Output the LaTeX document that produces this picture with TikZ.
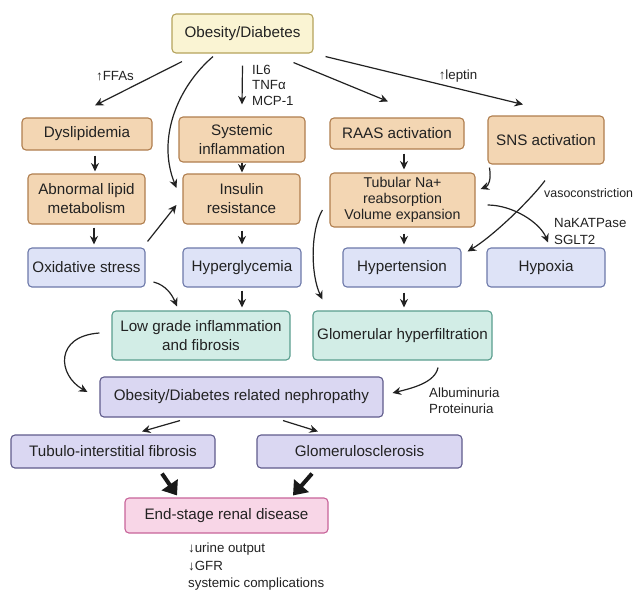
\documentclass[tikz,border=0pt]{standalone}
\usepackage{fontspec}
\setmainfont{Liberation Sans}
\usetikzlibrary{arrows.meta,calc}
\definecolor{yelF}{HTML}{FAF4D3}\definecolor{yelD}{HTML}{B5A35C}
\definecolor{tanF}{HTML}{F3D6B3}\definecolor{tanD}{HTML}{B07E4E}
\definecolor{bluF}{HTML}{DEE3F7}\definecolor{bluD}{HTML}{6D79AA}
\definecolor{teaF}{HTML}{D2EDE6}\definecolor{teaD}{HTML}{5A9E8E}
\definecolor{lavF}{HTML}{DAD7F2}\definecolor{lavD}{HTML}{605C8C}
\definecolor{pinF}{HTML}{F8D6E7}\definecolor{pinD}{HTML}{C8649A}
\definecolor{txt}{HTML}{222222}
\tikzset{
  box/.style={draw, rounded corners=4pt, line width=1.1pt, align=center, inner sep=1pt,
    text=txt, font=\fontsize{15.2}{19}\selectfont},
  yel/.style={box, fill=yelF, draw=yelD},
  tan/.style={box, fill=tanF, draw=tanD},
  blu/.style={box, fill=bluF, draw=bluD},
  tea/.style={box, fill=teaF, draw=teaD},
  lav/.style={box, fill=lavF, draw=lavD},
  pin/.style={box, fill=pinF, draw=pinD},
  lbl/.style={text=txt, align=left, inner sep=0pt, font=\fontsize{13.3}{16}\selectfont},
  arr/.style={draw=txt, line width=1.2pt, -{Stealth[length=8.5pt,width=8pt]}},
  fat/.style={draw=black!90, line width=4pt, -{Triangle[length=13pt,width=19pt]}},
}
\begin{document}
\begin{tikzpicture}[x=1pt,y=-1pt]
\useasboundingbox[fill=white] (0,0) rectangle (639,590);
% nodes
\node[yel, minimum width=141, minimum height=39] (ob) at (242.5,33.5) {Obesity/Diabetes};
\node[tan, minimum width=130, minimum height=32] (dys) at (87,134) {Dyslipidemia};
\node[tan, minimum width=126, minimum height=45] (sys) at (242,139.5) {Systemic\\inflammation};
\node[tan, minimum width=134, minimum height=31] (raas) at (397,133.5) {RAAS activation};
\node[tan, minimum width=116, minimum height=48] (sns) at (546,140) {SNS activation};
\node[tan, minimum width=117, minimum height=50] (abn) at (86.5,199) {Abnormal lipid\\metabolism};
\node[tan, minimum width=117, minimum height=50] (ins) at (241.5,199) {Insulin\\resistance};
\node[tan, minimum width=145, minimum height=54, font=\fontsize{14.2}{16}\selectfont] (tub) at (402.5,200) {Tubular Na+\\reabsorption\\Volume expansion};
\node[blu, minimum width=117, minimum height=39] (oxi) at (86.5,267.5) {Oxidative stress};
\node[blu, minimum width=118, minimum height=39] (hyg) at (242,267.5) {Hyperglycemia};
\node[blu, minimum width=118, minimum height=39] (hyt) at (402,267.5) {Hypertension};
\node[blu, minimum width=118, minimum height=39] (hyp) at (546,267.5) {Hypoxia};
\node[tea, minimum width=178, minimum height=49] (low) at (201,335.5) {Low grade inflammation\\and fibrosis};
\node[tea, minimum width=179, minimum height=49] (glo) at (402.5,335.5) {Glomerular hyperfiltration};
\node[lav, minimum width=283, minimum height=40] (nep) at (241.5,397) {Obesity/Diabetes related nephropathy};
\node[lav, minimum width=204, minimum height=33] (tif) at (113,451.5) {Tubulo-interstitial fibrosis};
\node[lav, minimum width=205, minimum height=33] (gls) at (359.5,451.5) {Glomerulosclerosis};
\node[pin, minimum width=203, minimum height=35] (esr) at (226.5,515.5) {End-stage renal disease};
% labels
\node[lbl] (ffa) at (115,76) {↑FFAs};
\node[lbl, anchor=west, font=\fontsize{13.3}{15.5}\selectfont] (cyt) at (252,85) {IL6\\TNFα\\MCP-1};
\node[lbl] (lep) at (458,76) {↑leptin};
\node[lbl, anchor=west, font=\fontsize{12.4}{15}\selectfont] (vas) at (544,193) {vasoconstriction};
\node[lbl, anchor=west, font=\fontsize{13.3}{17}\selectfont] (nak) at (554,231.5) {NaKATPase\\SGLT2};
\node[lbl, anchor=west] (alb) at (429,401) {Albuminuria\\Proteinuria};
\node[lbl, anchor=west, font=\fontsize{13.3}{17.5}\selectfont] (uri) at (188,567) {↓urine output\\↓GFR\\systemic complications};
% connectors
\draw[arr] ($(ob.south)+(-60.5,8)$) -- ($(dys.north)+(8,-12)$);
\draw[arr] ($(ob.south)+(-29.5,3)$) .. controls +(-35,30) and +(-20,-50) .. ($(ins.west)+(-6,-11)$);
\draw[arr] ($(ob.south)+(0,12)$) -- ($(sys.north)+(0,-12)$);
\draw[arr] ($(ob.south east)+(-20,9)$) -- ($(raas.north)+(-9,-16)$);
\draw[arr] ($(ob.south east)+(12,3)$) -- ($(sns.north)+(-23,-11)$);
\draw[arr] ($(dys.south)+(8,5)$) -- ($(abn.north)+(8.5,-2)$);
\draw[arr] (sys.south) -- ($(ins.north)+(0.5,-1)$);
\draw[arr] ($(raas.south)+(7,4)$) -- ($(tub.north)+(1.5,-3)$);
\draw[arr] ($(sns.south west)+(2,3)$) .. controls +(2,12) and +(8,-3) .. ($(tub.east)+(5,-11)$);
\draw[arr] ($(abn.south)+(7.5,3)$) -- ($(oxi.north)+(7.5,-3)$);
\draw[arr] ($(oxi.north east)+(2,-6)$) -- ($(ins.west)+(-6,6)$);
\draw[arr] ($(ins.south)+(0.5,6)$) -- ($(hyg.north)+(0,-3)$);
\draw[arr] ($(tub.south)+(1.5,6)$) -- ($(hyt.north)+(2,-3)$);
\draw[arr] ($(sns.south)+(-1,16)$) .. controls +(-15,20) and +(25,-15) .. ($(hyt.north east)+(6,4)$);
\draw[arr] ($(tub.east)+(12,5)$) .. controls +(25,0) and +(-8,-20) .. ($(hyp.north)+(2,-5)$);
\draw[arr] ($(oxi.east)+(8,14.5)$) .. controls +(12,3) and +(-5,-12) .. ($(low.north)+(-24,-4)$);
\draw[arr] ($(hyg.south)+(0,3)$) -- ($(low.north)+(41,-3)$);
\draw[arr] ($(tub.west)+(-7,10)$) .. controls +(-12,20) and +(-12,-25) .. ($(glo.north west)+(10,-11)$);
\draw[arr] ($(hyt.south)+(2,5)$) -- ($(glo.north)+(1.5,-3)$);
\draw[arr] ($(low.west)+(-12,-2.5)$) .. controls +(-45,3) and +(-30,-17) .. ($(nep.west)+(-12,-5)$);
\draw[arr] ($(glo.south)+(35.5,7)$) .. controls +(-3,15) and +(20,-5) .. ($(nep.east)+(9,-4)$);
\draw[arr] ($(nep.south)+(-61.5,3)$) -- ($(tif.north)+(29,-3)$);
\draw[arr] ($(nep.south)+(41.5,3)$) -- ($(gls.north)+(-41.5,-3)$);
\draw[fat] ($(tif.south)+(49,5)$) -- ($(esr.north)+(-49.5,-2)$);
\draw[fat] ($(gls.south)+(-47.5,5)$) -- ($(esr.north)+(66.5,-2)$);
\end{tikzpicture}
\end{document}
